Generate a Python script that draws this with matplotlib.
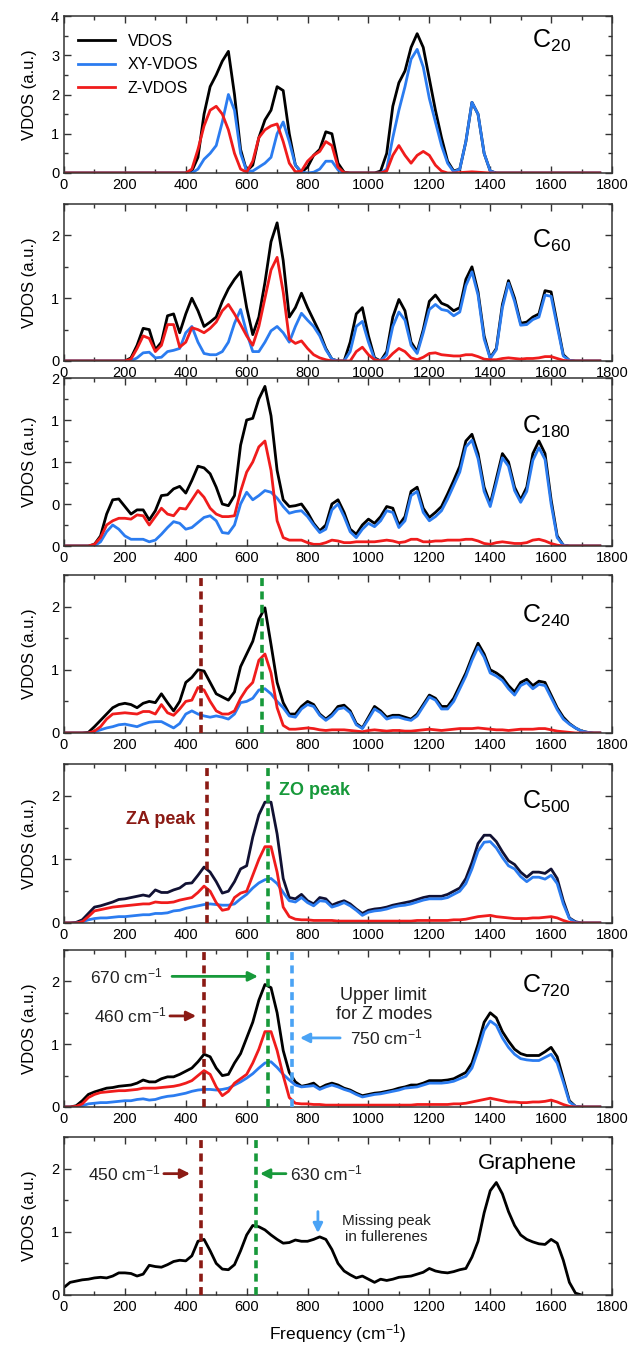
import numpy as np
import matplotlib
matplotlib.use("Agg")
import matplotlib.pyplot as plt
from matplotlib.ticker import MultipleLocator, FuncFormatter

plt.rcParams['font.family'] = ['Liberation Sans', 'DejaVu Sans']
plt.rcParams['mathtext.default'] = 'regular'
plt.rcParams['lines.solid_joinstyle'] = 'round'

freq = np.arange(0, 1761, 20)
freq_gr = np.arange(0, 1701, 20)

# ---------------- C20 ----------------
c20_tot = [0, 0, 0, 0, 0, 0, 0, 0, 0, 0,
           0, 0, 0, 0, 0, 0, 0, 0, 0, 0,
           0, 0.05, 0.4, 1.5, 2.2, 2.5, 2.85, 3.1, 2.0, 0.6,
           0.05, 0.2, 0.9, 1.35, 1.6, 2.2, 2.1, 1.0, 0.2, 0.02,
           0.15, 0.45, 0.6, 1.05, 1.0, 0.25, 0.02, 0, 0, 0,
           0, 0, 0.05, 0.5, 1.7, 2.3, 2.6, 3.2, 3.55, 3.2,
           2.4, 1.6, 0.9, 0.3, 0.05, 0.1, 0.8, 1.8, 1.5, 0.5,
           0.05, 0, 0, 0, 0, 0, 0, 0, 0, 0,
           0, 0, 0, 0, 0, 0, 0, 0, 0]
c20_xy = [0, 0, 0, 0, 0, 0, 0, 0, 0, 0,
          0, 0, 0, 0, 0, 0, 0, 0, 0, 0,
          0, 0, 0.1, 0.35, 0.5, 0.7, 1.3, 2.0, 1.6, 0.5,
          0.05, 0.05, 0.15, 0.25, 0.4, 1.0, 1.3, 0.8, 0.2, 0.02,
          0, 0.02, 0.1, 0.3, 0.3, 0.08, 0, 0, 0, 0,
          0, 0, 0, 0.1, 0.9, 1.6, 2.2, 2.9, 3.15, 2.7,
          1.9, 1.3, 0.7, 0.25, 0.03, 0.1, 0.8, 1.8, 1.5, 0.5,
          0.05, 0, 0, 0, 0, 0, 0, 0, 0, 0,
          0, 0, 0, 0, 0, 0, 0, 0, 0]
c20_z = [0, 0, 0, 0, 0, 0, 0, 0, 0, 0,
         0, 0, 0, 0, 0, 0, 0, 0, 0, 0,
         0, 0.1, 0.6, 1.2, 1.6, 1.7, 1.5, 1.1, 0.5, 0.1,
         0.02, 0.3, 0.9, 1.1, 1.2, 1.25, 0.8, 0.25, 0.03, 0.05,
         0.3, 0.45, 0.55, 0.8, 0.7, 0.15, 0.01, 0, 0, 0,
         0, 0, 0, 0.05, 0.45, 0.7, 0.45, 0.25, 0.45, 0.55,
         0.45, 0.2, 0.05, 0, 0, 0.01, 0.02, 0.03, 0.02, 0.01,
         0, 0, 0, 0, 0, 0, 0, 0, 0, 0,
         0, 0, 0, 0, 0, 0, 0, 0, 0]

# ---------------- C60 ----------------
c60_tot = [0, 0, 0, 0, 0, 0, 0, 0, 0, 0,
           0, 0.05, 0.25, 0.52, 0.5, 0.18, 0.3, 0.72, 0.75, 0.45,
           0.75, 1.0, 0.8, 0.55, 0.62, 0.7, 0.95, 1.15, 1.3, 1.42,
           0.85, 0.42, 0.7, 1.25, 1.9, 2.2, 1.6, 0.7, 0.85, 1.08,
           0.85, 0.65, 0.45, 0.2, 0.03, 0, 0, 0.3, 0.75, 0.85,
           0.4, 0.05, 0, 0.15, 0.7, 0.98, 0.8, 0.3, 0.15, 0.5,
           0.95, 1.05, 0.92, 0.88, 0.8, 0.85, 1.3, 1.5, 1.1, 0.4,
           0.05, 0.2, 0.9, 1.28, 1.0, 0.6, 0.62, 0.7, 0.75, 1.12,
           1.1, 0.6, 0.1, 0.01, 0, 0, 0, 0, 0]
c60_xy = [0, 0, 0, 0, 0, 0, 0, 0, 0, 0,
          0, 0, 0.05, 0.13, 0.14, 0.05, 0.06, 0.15, 0.17, 0.2,
          0.45, 0.55, 0.3, 0.12, 0.1, 0.1, 0.15, 0.3, 0.6, 0.82,
          0.45, 0.15, 0.15, 0.3, 0.48, 0.55, 0.45, 0.3, 0.55, 0.76,
          0.65, 0.55, 0.4, 0.18, 0.03, 0, 0, 0.15, 0.55, 0.63,
          0.3, 0.03, 0, 0.1, 0.55, 0.78, 0.65, 0.25, 0.12, 0.45,
          0.82, 0.9, 0.82, 0.8, 0.72, 0.78, 1.2, 1.42, 1.05, 0.35,
          0.04, 0.18, 0.85, 1.24, 0.95, 0.57, 0.58, 0.66, 0.7, 1.05,
          1.03, 0.55, 0.08, 0.01, 0, 0, 0, 0, 0]
c60_z = [0, 0, 0, 0, 0, 0, 0, 0, 0, 0,
         0, 0.03, 0.2, 0.4, 0.36, 0.15, 0.25, 0.58, 0.58, 0.22,
         0.3, 0.53, 0.5, 0.45, 0.52, 0.62, 0.8, 0.9, 0.75, 0.58,
         0.4, 0.25, 0.55, 1.0, 1.45, 1.65, 1.1, 0.35, 0.28, 0.32,
         0.2, 0.1, 0.05, 0.02, 0, 0, 0, 0, 0.15, 0.22,
         0.1, 0.02, 0, 0.02, 0.12, 0.2, 0.15, 0.05, 0.02, 0.06,
         0.12, 0.13, 0.1, 0.09, 0.08, 0.08, 0.1, 0.1, 0.07, 0.03,
         0.02, 0.02, 0.04, 0.05, 0.04, 0.03, 0.04, 0.04, 0.05, 0.07,
         0.07, 0.04, 0.01, 0, 0, 0, 0, 0, 0]

# ---------------- C180 ----------------
c180_tot = [0, 0, 0, 0, 0, 0.02, 0.12, 0.38, 0.55, 0.56,
            0.47, 0.38, 0.43, 0.43, 0.31, 0.42, 0.6, 0.61, 0.68, 0.71,
            0.63, 0.78, 0.95, 0.93, 0.86, 0.7, 0.5, 0.48, 0.6, 1.2,
            1.5, 1.52, 1.75, 1.9, 1.55, 0.9, 0.55, 0.47, 0.48, 0.5,
            0.4, 0.27, 0.18, 0.25, 0.5, 0.55, 0.4, 0.2, 0.14, 0.25,
            0.32, 0.27, 0.35, 0.47, 0.45, 0.25, 0.35, 0.65, 0.7, 0.45,
            0.34, 0.4, 0.47, 0.62, 0.78, 0.95, 1.25, 1.33, 1.1, 0.7,
            0.5, 0.8, 1.1, 1.0, 0.7, 0.55, 0.7, 1.1, 1.25, 1.1,
            0.55, 0.12, 0.01, 0, 0, 0, 0, 0, 0]
c180_xy = [0, 0, 0, 0, 0, 0, 0.05, 0.17, 0.25, 0.2,
           0.12, 0.08, 0.08, 0.08, 0.05, 0.07, 0.14, 0.22, 0.29, 0.27,
           0.2, 0.22, 0.28, 0.34, 0.36, 0.3, 0.16, 0.15, 0.25, 0.5,
           0.64, 0.55, 0.6, 0.66, 0.64, 0.57, 0.47, 0.39, 0.41, 0.42,
           0.35, 0.25, 0.16, 0.2, 0.43, 0.5, 0.35, 0.17, 0.1, 0.2,
           0.27, 0.23, 0.3, 0.42, 0.4, 0.22, 0.3, 0.6, 0.65, 0.4,
           0.3, 0.35, 0.42, 0.56, 0.72, 0.88, 1.18, 1.26, 1.04, 0.65,
           0.47, 0.75, 1.05, 0.95, 0.66, 0.52, 0.65, 1.02, 1.17, 1.03,
           0.5, 0.1, 0.01, 0, 0, 0, 0, 0, 0]
c180_z = [0, 0, 0, 0, 0, 0.02, 0.1, 0.25, 0.3, 0.33,
          0.33, 0.32, 0.37, 0.36, 0.25, 0.35, 0.45, 0.38, 0.36, 0.45,
          0.44, 0.55, 0.66, 0.58, 0.45, 0.38, 0.35, 0.35, 0.36, 0.65,
          0.88, 1.0, 1.18, 1.25, 0.9, 0.3, 0.1, 0.07, 0.07, 0.07,
          0.04, 0.02, 0.02, 0.04, 0.07, 0.06, 0.04, 0.04, 0.05, 0.05,
          0.05, 0.05, 0.06, 0.07, 0.06, 0.04, 0.05, 0.08, 0.08, 0.05,
          0.05, 0.06, 0.06, 0.07, 0.07, 0.07, 0.08, 0.08, 0.06, 0.03,
          0.02, 0.04, 0.05, 0.04, 0.03, 0.03, 0.04, 0.07, 0.08, 0.06,
          0.03, 0.01, 0, 0, 0, 0, 0, 0, 0]

# ---------------- C240 ----------------
c240_tot = [0, 0, 0, 0, 0.01, 0.1, 0.2, 0.3, 0.4, 0.45,
            0.47, 0.45, 0.4, 0.47, 0.5, 0.48, 0.62, 0.48, 0.35, 0.5,
            0.8, 0.88, 1.0, 0.98, 0.8, 0.62, 0.57, 0.52, 0.65, 1.05,
            1.25, 1.45, 1.8, 1.98, 1.4, 0.8, 0.48, 0.3, 0.3, 0.42,
            0.5, 0.45, 0.3, 0.22, 0.3, 0.42, 0.44, 0.35, 0.15, 0.08,
            0.25, 0.42, 0.35, 0.25, 0.28, 0.28, 0.25, 0.22, 0.3, 0.45,
            0.6, 0.55, 0.42, 0.42, 0.55, 0.75, 0.95, 1.2, 1.42, 1.25,
            1.0, 0.95, 0.88, 0.75, 0.65, 0.8, 0.85, 0.75, 0.82, 0.8,
            0.6, 0.4, 0.25, 0.15, 0.08, 0.03, 0.01, 0, 0]
c240_xy = [0, 0, 0, 0, 0, 0.02, 0.05, 0.08, 0.1, 0.13,
           0.14, 0.12, 0.1, 0.14, 0.17, 0.18, 0.18, 0.13, 0.08, 0.15,
           0.3, 0.35, 0.3, 0.27, 0.25, 0.27, 0.25, 0.22, 0.3, 0.48,
           0.5, 0.55, 0.68, 0.7, 0.62, 0.5, 0.4, 0.27, 0.25, 0.38,
           0.45, 0.42, 0.28, 0.2, 0.27, 0.38, 0.4, 0.32, 0.13, 0.07,
           0.22, 0.38, 0.32, 0.22, 0.25, 0.25, 0.22, 0.2, 0.27, 0.42,
           0.57, 0.52, 0.38, 0.38, 0.5, 0.7, 0.9, 1.15, 1.36, 1.2,
           0.95, 0.9, 0.83, 0.7, 0.6, 0.75, 0.8, 0.7, 0.77, 0.75,
           0.56, 0.37, 0.22, 0.14, 0.08, 0.03, 0.01, 0, 0]
c240_z = [0, 0, 0, 0, 0, 0.03, 0.1, 0.22, 0.3, 0.31,
          0.32, 0.31, 0.3, 0.34, 0.34, 0.3, 0.45, 0.32, 0.28, 0.38,
          0.5, 0.52, 0.72, 0.68, 0.5, 0.35, 0.3, 0.3, 0.35, 0.55,
          0.7, 0.8, 1.15, 1.25, 0.95, 0.4, 0.12, 0.06, 0.06, 0.07,
          0.08, 0.07, 0.05, 0.04, 0.05, 0.05, 0.05, 0.04, 0.03, 0.02,
          0.04, 0.05, 0.04, 0.03, 0.04, 0.04, 0.03, 0.03, 0.04, 0.05,
          0.06, 0.05, 0.04, 0.05, 0.06, 0.07, 0.07, 0.07, 0.08, 0.07,
          0.06, 0.05, 0.05, 0.04, 0.05, 0.06, 0.06, 0.06, 0.07, 0.07,
          0.05, 0.03, 0.02, 0.01, 0, 0, 0, 0, 0]

# ---------------- C500 ----------------
c500_tot = [0, 0, 0.01, 0.05, 0.15, 0.25, 0.27, 0.3, 0.33, 0.37,
            0.38, 0.4, 0.42, 0.44, 0.42, 0.52, 0.48, 0.48, 0.52, 0.55,
            0.62, 0.63, 0.75, 0.88, 0.8, 0.65, 0.47, 0.5, 0.65, 0.85,
            0.9, 1.35, 1.7, 1.9, 1.9, 1.4, 0.7, 0.4, 0.38, 0.45,
            0.35, 0.3, 0.4, 0.38, 0.28, 0.32, 0.35, 0.3, 0.22, 0.15,
            0.2, 0.22, 0.23, 0.25, 0.28, 0.3, 0.32, 0.34, 0.37, 0.4,
            0.42, 0.42, 0.42, 0.45, 0.5, 0.55, 0.7, 0.95, 1.25, 1.38,
            1.38, 1.28, 1.12, 0.98, 0.92, 0.8, 0.72, 0.8, 0.8, 0.78,
            0.85, 0.7, 0.35, 0.08, 0.02, 0, 0, 0, 0]
c500_xy = [0, 0, 0, 0.02, 0.05, 0.07, 0.08, 0.08, 0.09, 0.1,
           0.1, 0.11, 0.12, 0.13, 0.13, 0.15, 0.15, 0.16, 0.19, 0.2,
           0.23, 0.25, 0.27, 0.29, 0.3, 0.29, 0.28, 0.28, 0.3, 0.38,
           0.45, 0.55, 0.63, 0.68, 0.7, 0.62, 0.48, 0.35, 0.33, 0.4,
           0.32, 0.27, 0.35, 0.34, 0.25, 0.28, 0.32, 0.27, 0.2, 0.12,
           0.17, 0.19, 0.2, 0.22, 0.25, 0.27, 0.28, 0.3, 0.33, 0.36,
           0.38, 0.38, 0.38, 0.4, 0.45, 0.5, 0.62, 0.85, 1.13, 1.27,
           1.28, 1.18, 1.03, 0.9, 0.85, 0.73, 0.65, 0.72, 0.72, 0.69,
           0.75, 0.62, 0.3, 0.07, 0.01, 0, 0, 0, 0]
c500_z = [0, 0, 0, 0.02, 0.1, 0.19, 0.21, 0.23, 0.25, 0.26,
          0.27, 0.28, 0.29, 0.3, 0.3, 0.33, 0.32, 0.32, 0.33, 0.36,
          0.38, 0.4, 0.48, 0.58, 0.5, 0.32, 0.2, 0.22, 0.4, 0.47,
          0.5, 0.75, 1.0, 1.2, 1.2, 0.8, 0.25, 0.1, 0.06, 0.05,
          0.05, 0.04, 0.04, 0.04, 0.04, 0.03, 0.03, 0.03, 0.03, 0.03,
          0.03, 0.03, 0.03, 0.03, 0.03, 0.03, 0.03, 0.03, 0.04, 0.04,
          0.04, 0.04, 0.04, 0.04, 0.05, 0.05, 0.06, 0.08, 0.1, 0.11,
          0.12, 0.1, 0.09, 0.08, 0.07, 0.07, 0.07, 0.08, 0.08, 0.09,
          0.1, 0.08, 0.04, 0.01, 0, 0, 0, 0, 0]

# ---------------- C720 ----------------
c720_tot = [0, 0, 0.02, 0.1, 0.2, 0.24, 0.27, 0.3, 0.31, 0.33,
            0.34, 0.35, 0.38, 0.43, 0.4, 0.4, 0.45, 0.48, 0.48, 0.52,
            0.57, 0.62, 0.72, 0.84, 0.8, 0.62, 0.5, 0.52, 0.7, 0.85,
            1.1, 1.35, 1.7, 1.95, 1.9, 1.5, 0.9, 0.55, 0.4, 0.33,
            0.35, 0.38, 0.3, 0.35, 0.38, 0.35, 0.3, 0.27, 0.22, 0.18,
            0.2, 0.22, 0.23, 0.25, 0.27, 0.3, 0.32, 0.35, 0.35, 0.38,
            0.42, 0.42, 0.42, 0.43, 0.45, 0.5, 0.55, 0.7, 1.0, 1.35,
            1.5, 1.42, 1.2, 1.05, 0.92, 0.85, 0.82, 0.82, 0.82, 0.88,
            0.95, 0.8, 0.45, 0.1, 0.01, 0, 0, 0, 0]
c720_xy = [0, 0, 0, 0.02, 0.05, 0.06, 0.07, 0.07, 0.08, 0.09,
           0.1, 0.1, 0.12, 0.13, 0.11, 0.12, 0.15, 0.17, 0.18, 0.2,
           0.22, 0.25, 0.27, 0.28, 0.28, 0.27, 0.28, 0.3, 0.35, 0.4,
           0.46, 0.53, 0.62, 0.7, 0.72, 0.63, 0.52, 0.43, 0.35, 0.32,
           0.33, 0.34, 0.28, 0.32, 0.35, 0.32, 0.28, 0.25, 0.2, 0.16,
           0.18, 0.2, 0.21, 0.23, 0.25, 0.27, 0.3, 0.31, 0.32, 0.35,
           0.38, 0.38, 0.38, 0.39, 0.41, 0.45, 0.49, 0.62, 0.9, 1.22,
           1.37, 1.3, 1.1, 0.95, 0.84, 0.77, 0.75, 0.74, 0.74, 0.79,
           0.84, 0.7, 0.4, 0.08, 0.01, 0, 0, 0, 0]
c720_z = [0, 0, 0.01, 0.05, 0.15, 0.2, 0.23, 0.24, 0.25, 0.26,
          0.26, 0.27, 0.28, 0.3, 0.3, 0.3, 0.31, 0.32, 0.33, 0.35,
          0.38, 0.42, 0.5, 0.58, 0.52, 0.32, 0.18, 0.25, 0.38, 0.45,
          0.52, 0.7, 0.92, 1.2, 1.2, 0.9, 0.5, 0.15, 0.06, 0.05,
          0.05, 0.04, 0.04, 0.03, 0.03, 0.03, 0.03, 0.03, 0.03, 0.03,
          0.03, 0.03, 0.03, 0.03, 0.03, 0.03, 0.03, 0.03, 0.04, 0.04,
          0.04, 0.04, 0.04, 0.04, 0.05, 0.05, 0.06, 0.08, 0.1, 0.12,
          0.14, 0.12, 0.1, 0.08, 0.08, 0.07, 0.07, 0.08, 0.08, 0.09,
          0.11, 0.08, 0.04, 0.01, 0, 0, 0, 0, 0]

# ---------------- Graphene ----------------
graphene_tot = [0.12, 0.2, 0.22, 0.24, 0.25, 0.27, 0.28, 0.27, 0.3, 0.35,
                0.35, 0.34, 0.3, 0.33, 0.47, 0.45, 0.44, 0.48, 0.53, 0.55,
                0.54, 0.62, 0.85, 0.88, 0.7, 0.5, 0.41, 0.4, 0.48, 0.7,
                0.95, 1.1, 1.08, 1.03, 0.95, 0.88, 0.82, 0.83, 0.87, 0.85,
                0.85, 0.88, 0.92, 0.88, 0.72, 0.5, 0.38, 0.32, 0.27, 0.3,
                0.25, 0.2, 0.25, 0.23, 0.25, 0.28, 0.29, 0.3, 0.33, 0.36,
                0.42, 0.38, 0.36, 0.35, 0.37, 0.4, 0.42, 0.6, 0.85, 1.3,
                1.65, 1.78, 1.6, 1.32, 1.1, 0.95, 0.88, 0.84, 0.81, 0.8,
                0.88, 0.82, 0.55, 0.2, 0.03, 0]

panel_labels = ['C$_{20}$', 'C$_{60}$', 'C$_{180}$', 'C$_{240}$',
                'C$_{500}$', 'C$_{720}$', 'Graphene']
series = [(c20_tot, c20_xy, c20_z), (c60_tot, c60_xy, c60_z),
          (c180_tot, c180_xy, c180_z), (c240_tot, c240_xy, c240_z),
          (c500_tot, c500_xy, c500_z), (c720_tot, c720_xy, c720_z)]

# ZA / ZO marker positions (cm^-1) for C240, C500, C720, graphene
za_pos = [450, 470, 460, 450]
zo_pos = [650, 670, 670, 630]
z_limit = 750

BLACK = 'black'
BLUE = '#2b7cf0'
RED = '#f01c1c'
ZA_COL = '#8b1a14'
ZO_COL = '#17993a'
LIM_COL = '#4aa3f5'

# panel frames in pixel rows (top, bottom) of the 628x1346 figure
W, H = 628, 1346
frames = [(16, 173), (204, 361), (378, 546), (575, 733),
          (764, 923), (950, 1107), (1137, 1295)]
ymax = [4, 2.5, 2.0, 2.5, 2.5, 2.5, 2.5]
label_y = [0.80, 0.72, 0.67, 0.70, 0.72, 0.73, 0.80]

fig = plt.figure(figsize=(W / 100, H / 100), dpi=100)
axes = []
for (top, bot) in frames:
    ax = fig.add_axes([64 / W, 1 - bot / H, 548 / W, (bot - top) / H])
    axes.append(ax)

for i, ax in enumerate(axes):
    if i < 6:
        tot, xy, z = series[i]
        col_tot = '#111133' if i == 4 else BLACK
        ax.plot(freq, tot, color=col_tot, lw=2.0, label='VDOS')
        ax.plot(freq, xy, color=BLUE, lw=2.0, label='XY-VDOS')
        ax.plot(freq, z, color=RED, lw=2.0, label='Z-VDOS')
    else:
        ax.plot(freq_gr, graphene_tot, color=BLACK, lw=2.0)

    ax.set_xlim(0, 1800)
    ax.set_ylim(0, ymax[i])
    ax.xaxis.set_major_locator(MultipleLocator(200))
    ax.xaxis.set_minor_locator(MultipleLocator(100))
    if i == 2:
        ax.yaxis.set_major_locator(MultipleLocator(0.5))
        ax.yaxis.set_minor_locator(MultipleLocator(0.25))
        ax.yaxis.set_major_formatter(FuncFormatter(lambda v, p: str(int(v))))
    else:
        ax.yaxis.set_major_locator(MultipleLocator(1))
        ax.yaxis.set_minor_locator(MultipleLocator(0.5))
    ax.tick_params(which='both', direction='in', top=True, right=True,
                   labelsize=10.5, width=1, color='#333333')
    ax.tick_params(which='major', length=5)
    ax.tick_params(which='minor', length=3)
    for sp in ax.spines.values():
        sp.set_color('#333333')
        sp.set_linewidth(1.1)
    ax.set_ylabel('VDOS (a.u.)', fontsize=12)
    ax.yaxis.set_label_coords(-0.05, 0.5)

    fs = 16 if i == 6 else 18
    ax.text(0.925 if i < 6 else 0.935, label_y[i], panel_labels[i],
            transform=ax.transAxes, ha='right', va='baseline', fontsize=fs)

axes[0].legend(loc='upper left', bbox_to_anchor=(0.0, 0.98), frameon=False,
               fontsize=11.5, handlelength=2.3, labelspacing=0.55,
               handletextpad=0.8)

dash = dict(lw=2.6, dashes=(2.2, 1.5), zorder=5)
for ax, za, zo in zip(axes[3:], za_pos, zo_pos):
    ax.axvline(za, color=ZA_COL, **dash)
    ax.axvline(zo, color=ZO_COL, **dash)
axes[5].axvline(z_limit, color=LIM_COL, **dash)

# C500 peak labels
ax = axes[4]
ax.text(430, 1.63, 'ZA peak', color=ZA_COL, fontsize=13, fontweight='bold',
        ha='right', va='center')
ax.text(705, 2.09, 'ZO peak', color=ZO_COL, fontsize=13, fontweight='bold',
        ha='left', va='center')

arrow = dict(arrowstyle='-|>', lw=2, mutation_scale=14, shrinkA=0, shrinkB=0)

# C720 annotations
ax = axes[5]
ax.text(85, 2.08, '670 cm$^{-1}$', fontsize=12.5, color='#222222', va='center')
ax.annotate('', xy=(637, 2.08), xytext=(355, 2.08),
            arrowprops=dict(color=ZO_COL, **arrow))
ax.text(99, 1.45, '460 cm$^{-1}$', fontsize=12.5, color='#222222', va='center')
ax.annotate('', xy=(434, 1.45), xytext=(348, 1.45),
            arrowprops=dict(color=ZA_COL, **arrow))
ax.text(1050, 1.63, 'Upper limit\nfor Z modes', fontsize=13, color='#222222',
        ha='center', va='center', linespacing=1.15)
ax.text(940, 1.1, '750 cm$^{-1}$', fontsize=12.5, color='#222222', va='center')
ax.annotate('', xy=(775, 1.1), xytext=(907, 1.1),
            arrowprops=dict(color=LIM_COL, **arrow))

# Graphene annotations
ax = axes[6]
ax.text(79, 1.92, '450 cm$^{-1}$', fontsize=12.5, color='#222222', va='center')
ax.annotate('', xy=(414, 1.92), xytext=(328, 1.92),
            arrowprops=dict(color=ZA_COL, **arrow))
ax.text(742, 1.92, '630 cm$^{-1}$', fontsize=12.5, color='#222222', va='center')
ax.annotate('', xy=(644, 1.92), xytext=(729, 1.92),
            arrowprops=dict(color=ZO_COL, **arrow))
ax.annotate('', xy=(834, 0.98), xytext=(834, 1.32),
            arrowprops=dict(color=LIM_COL, **arrow))
ax.text(1058, 1.05, 'Missing peak\nin fullerenes', fontsize=11, color='#222222',
        ha='center', va='center', linespacing=1.2)
ax.set_xlabel('Frequency (cm$^{-1}$)', fontsize=12.5, labelpad=6)

fig.savefig('out.png', dpi=100)
